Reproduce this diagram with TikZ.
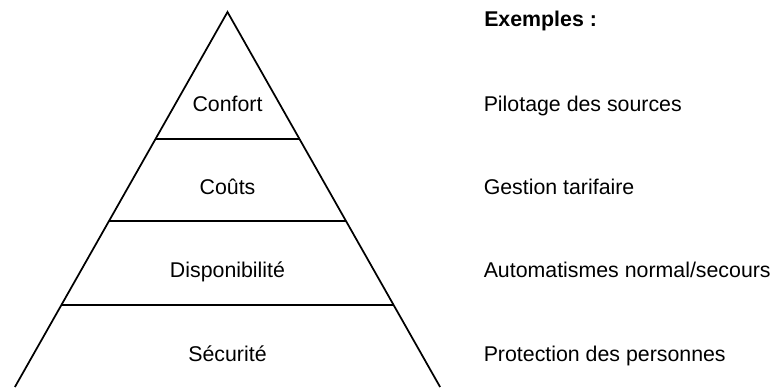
\documentclass[tikz,border=0pt]{standalone}
\usepackage{fontspec}
\setmainfont{Liberation Sans}
\usetikzlibrary{calc}
\begin{document}
\begin{tikzpicture}[x=0.75pt,y=-0.75pt,
  edge/.style={line width=1.3pt,line join=miter},
  lbl/.style={inner sep=0pt,anchor=base,font=\fontsize{16}{19}\selectfont},
  ex/.style={inner sep=0pt,anchor=base west,font=\fontsize{16}{19}\selectfont}]
\useasboundingbox (0,0) rectangle (772,387);
\coordinate (A) at (227.5,12);
\coordinate (BL) at (14.9,387);
\coordinate (BR) at (440.1,387);
\begin{scope}
\clip (0,0) rectangle (772,387);
\draw[edge] (BL) -- (A) -- (BR);
\draw[edge] ($(A)!0.3387!(BL)$) -- ($(A)!0.3387!(BR)$);
\draw[edge] ($(A)!0.5573!(BL)$) -- ($(A)!0.5573!(BR)$);
\draw[edge] ($(A)!0.7813!(BL)$) -- ($(A)!0.7813!(BR)$);
\end{scope}
\node[lbl] (confort) at (227.5,111.5) {Confort};
\node[lbl] (couts) at (227.5,194.5) {Coûts};
\node[lbl] (dispo) at (227.5,277) {Disponibilité};
\node[lbl] (secu) at (227.5,361.5) {Sécurité};
\node[ex,font=\fontsize{16}{19}\selectfont\bfseries] (exemples) at (484,26) {Exemples :};
\node[ex] (pilotage) at (483.5,111.5) {Pilotage des sources};
\node[ex] (gestion) at (483.5,194.5) {Gestion tarifaire};
\node[ex] (auto) at (483.5,277) {Automatismes normal/secours};
\node[ex] (protection) at (483.5,361.5) {Protection des personnes};
\end{tikzpicture}
\end{document}
